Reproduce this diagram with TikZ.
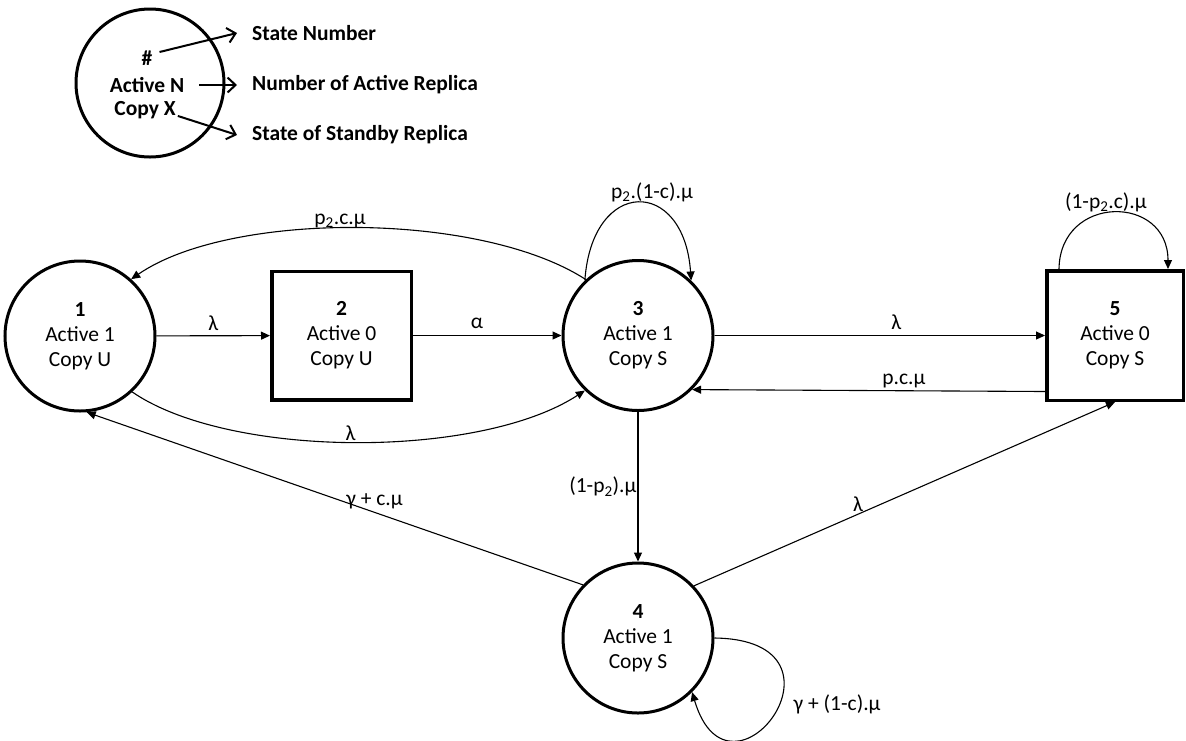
\documentclass[tikz,border=0pt]{standalone}
\usepackage{fontspec}
\setmainfont{Carlito}
\usetikzlibrary{arrows.meta}
\begin{document}
\begin{tikzpicture}[x=1pt,y=-1pt,
  every node/.style={font=\fontsize{21.5}{25}\selectfont},
  circstate/.style={circle,draw,line width=3pt,minimum size=150pt,inner sep=0pt,align=center},
  boxstate/.style={rectangle,draw,line width=3.5pt,inner sep=0pt,align=center},
  trans/.style={line width=1.1pt,-{Triangle[length=9pt,width=8pt]}},
  lbl/.style={inner sep=2pt},
  legarrow/.style={line width=2pt,-{Straight Barb[length=8pt,width=15pt,line width=2pt]}},
  legitem/.style={font=\fontsize{21.5}{25}\selectfont\bfseries,inner sep=2pt},
  legtext/.style={font=\fontsize{21.5}{25}\selectfont\bfseries,anchor=west,inner sep=0pt}
]
\useasboundingbox (0,0) rectangle (1186,740);

% legend
\node[circle,draw,line width=3pt,minimum size=148pt,inner sep=0pt] (leg) at (150,83) {};
\node[legitem] (hash) at (147,58) {\#};
\node[legitem] (an) at (147,85) {Active N};
\node[legitem] (cx) at (145,110) {Copy X};
\node[legtext] (sn) at (252,33) {State Number};
\node[legtext] (na) at (252,85) {Number of Active Replica};
\node[legtext] (ss) at (252,135) {State of Standby Replica};
\draw[legarrow] ([xshift=5pt,yshift=6pt]hash.east) -- ([xshift=-15pt]sn.west);
\draw[legarrow] ([xshift=13pt]an.east) -- ([xshift=-15pt]na.west);
\draw[legarrow] ([yshift=5pt]cx.south east) -- ([xshift=-15pt]ss.west);

% states
\node[circstate] (n1) at (80,336) {\textbf{1}\\Active 1\\Copy U};
\node[boxstate,minimum width=139.5pt,minimum height=128.5pt] (n2) at (341.5,335.5) {\textbf{2}\\Active 0\\Copy U};
\node[circstate] (n3) at (638,335.5) {\textbf{3}\\Active 1\\Copy S};
\node[circstate] (n4) at (638,638) {\textbf{4}\\Active 1\\Copy S};
\node[boxstate,minimum width=136.5pt,minimum height=129.5pt] (n5) at (1115,335.5) {\textbf{5}\\Active 0\\Copy S};

% transitions
\draw[trans] (n1) -- node[lbl,above=3pt]{λ} (n2);
\draw[trans] (n2) -- node[lbl,above=4pt,pos=0.43]{α} (n3);
\draw[trans] (n3) -- node[lbl,above=3pt,pos=0.55]{λ} (n5);
\draw[trans] ([yshift=-56pt]n5.west) -- node[lbl,above,pos=0.4]{p.c.μ} (n3.-45);
\draw[trans] (n3) -- node[left,inner sep=1pt]{(1-p\textsubscript{2}).μ} (n4);
\draw[trans] (n4.136) -- node[pos=0.42,above,inner sep=3pt]{γ + c.μ} (n1.-85);
\draw[trans] (n4.43) -- node[pos=0.39,above,inner sep=2pt]{λ} (n5.south);
\draw[trans] (n3.133) .. controls (480,211) and (230,211) .. node[pos=0.53,above,inner sep=0pt]{p\textsubscript{2}.c.μ} (n1.48);
\draw[trans] (n1.-47) .. controls (230,459) and (480,459) .. node[pos=0.49,above,inner sep=1pt]{λ} (n3.-134);

% self loops
\draw[trans] (n3.134) .. controls (592,177) and (684,177) .. node[pos=0.5,above,inner sep=0pt,xshift=14pt]{p\textsubscript{2}.(1-c).μ} (n3.46);
\draw[trans] ([xshift=-56pt]n5.north) .. controls (1060,194) and (1168,194) .. node[pos=0.5,above,inner sep=0pt,xshift=-8pt]{(1-p\textsubscript{2}.c).μ} ([xshift=53pt]n5.north);
\draw[trans] (n4.east) .. controls (865,640) and (730,820) .. node[pos=0.45,right=14pt,inner sep=0pt]{γ + (1-c).μ} (n4.-45);
\end{tikzpicture}
\end{document}
